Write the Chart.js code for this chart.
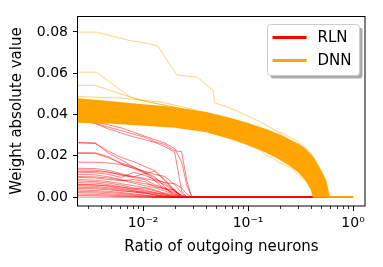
<!DOCTYPE html>
<html>
<head>
<meta charset="utf-8">
<script src="https://cdn.jsdelivr.net/npm/chart.js@4.4.0/dist/chart.umd.min.js"></script>
<style>
  html, body { margin: 0; padding: 0; background: #fff; }
  canvas { display: block; }
</style>
</head>
<body>
<canvas id="chart" width="383" height="267"></canvas>
<script>
// ratio of outgoing neurons, shared by all RLN curves
const rlnX = [0.0024, 0.0035, 0.0047, 0.0062, 0.0081, 0.0104, 0.0129, 0.0161, 0.02, 0.0233, 0.0261, 0.0291, 1.0];

// RLN weight curves
const rlnCurves = [
    [0.0380, 0.0358, 0.0338, 0.0322, 0.0305, 0.0290, 0.0268, 0.0255, 0.0225, 0.0220, 0.0080, 0, 0],
    [0.0385, 0.0362, 0.0350, 0.0335, 0.0315, 0.0295, 0.0278, 0.0262, 0.0235, 0.0170, 0.0058, 0, 0],
    [0.0370, 0.0356, 0.0330, 0.0310, 0.0292, 0.0278, 0.0265, 0.0245, 0.0218, 0.0030, 0, 0, 0],
    [0.0265, 0.0262, 0.0213, 0.0180, 0.0146, 0.0120, 0.0098, 0.0050, 0, 0, 0, 0, 0],
    [0.0262, 0.0260, 0.0222, 0.0192, 0.0172, 0.0148, 0.0128, 0.0085, 0.0035, 0, 0, 0, 0],
    [0.0212, 0.0212, 0.0190, 0.0165, 0.0146, 0.0120, 0.0090, 0.0069, 0.0030, 0, 0, 0, 0],
    [0.0215, 0.0214, 0.0196, 0.0160, 0.0140, 0.0125, 0.0110, 0.0100, 0.0060, 0.0020, 0, 0, 0],
    [0.0169, 0.0169, 0.0165, 0.0158, 0.0140, 0.0115, 0.0080, 0.0040, 0.0015, 0, 0, 0, 0],
    [0.0140, 0.0138, 0.0130, 0.0112, 0.0100, 0.0090, 0.0080, 0.0060, 0.0030, 0.0008, 0, 0, 0],
    [0.0132, 0.0130, 0.0122, 0.0105, 0.0098, 0.0115, 0.0125, 0.0080, 0.0030, 0, 0, 0, 0],
    [0.0125, 0.0124, 0.0120, 0.0110, 0.0095, 0.0085, 0.0060, 0.0045, 0.0025, 0.0010, 0, 0, 0],
    [0.0120, 0.0118, 0.0110, 0.0095, 0.0120, 0.0105, 0.0085, 0.0070, 0.0065, 0.0045, 0.0015, 0, 0],
    [0.0110, 0.0108, 0.0098, 0.0085, 0.0075, 0.0065, 0.0055, 0.0040, 0.0020, 0, 0, 0, 0],
    [0.0100, 0.0098, 0.0092, 0.0082, 0.0068, 0.0055, 0.0045, 0.0030, 0.0012, 0, 0, 0, 0],
    [0.0095, 0.0093, 0.0085, 0.0080, 0.0085, 0.0075, 0.0050, 0.0040, 0.0035, 0.0005, 0, 0, 0],
    [0.0085, 0.0082, 0.0075, 0.0065, 0.0055, 0.0045, 0.0035, 0.0015, 0, 0, 0, 0, 0],
    [0.0078, 0.0075, 0.0068, 0.0058, 0.0045, 0.0035, 0.0022, 0.0010, 0, 0, 0, 0, 0],
    [0.0070, 0.0068, 0.0060, 0.0050, 0.0040, 0.0045, 0.0030, 0.0020, 0.0008, 0, 0, 0, 0],
    [0.0062, 0.0060, 0.0052, 0.0042, 0.0032, 0.0025, 0.0018, 0.0010, 0, 0, 0, 0, 0],
    [0.0060, 0.0058, 0.0055, 0.0048, 0.0038, 0.0030, 0.0022, 0.0015, 0.0006, 0, 0, 0, 0],
    [0.0055, 0.0052, 0.0045, 0.0038, 0.0030, 0.0022, 0.0012, 0.0005, 0, 0, 0, 0, 0],
    [0.0048, 0.0046, 0.0040, 0.0032, 0.0025, 0.0018, 0.0010, 0, 0, 0, 0, 0, 0],
    [0.0042, 0.0040, 0.0035, 0.0030, 0.0025, 0.0020, 0.0012, 0.0004, 0, 0, 0, 0, 0],
    [0.0035, 0.0032, 0.0028, 0.0022, 0.0016, 0.0010, 0.0005, 0, 0, 0, 0, 0, 0],
    [0.0028, 0.0026, 0.0022, 0.0018, 0.0012, 0.0008, 0.0003, 0, 0, 0, 0, 0, 0],
    [0.0022, 0.0020, 0.0016, 0.0012, 0.0008, 0.0004, 0, 0, 0, 0, 0, 0, 0],
    [0.0015, 0.0013, 0.0010, 0.0007, 0.0004, 0.0001, 0, 0, 0, 0, 0, 0, 0],
    [0.0008, 0.0007, 0.0005, 0.0003, 0.0001, 0, 0, 0, 0, 0, 0, 0, 0],
    [0, 0, 0, 0, 0, 0, 0, 0, 0, 0, 0, 0, 0]
];

// DNN: the dense bundle of curves, as its upper and lower edge
const bandX = [0.0024, 0.005, 0.01, 0.02, 0.04, 0.07, 0.1, 0.15, 0.2, 0.25, 0.3, 0.35, 0.4, 0.42, 0.45, 0.5, 0.55, 0.59, 1.0];
const dnnBandTop = [0.0475, 0.0461, 0.0446, 0.0433, 0.0408, 0.0378, 0.0356, 0.0325, 0.0300, 0.0275, 0.0255, 0.0232, 0.0200, 0.0185, 0.0160, 0.0118, 0.0075, 0, 0];
const dnnBandBottom = [0.0364, 0.0359, 0.0349, 0.0339, 0.0318, 0.0283, 0.0255, 0.0218, 0.0185, 0.0155, 0.0125, 0.0088, 0.0040, 0, 0, 0, 0, 0, 0];

// DNN curves standing out of the bundle
const dnnTopX = [0.0024, 0.0036, 0.0075, 0.0108, 0.0138, 0.0161, 0.0209, 0.0332, 0.037, 0.0461, 0.0483, 0.0627, 0.087, 0.121, 0.161, 0.2, 0.233, 0.3, 0.4, 0.5, 0.59, 1.0];
const dnnTopY = [0.0799, 0.0799, 0.0758, 0.0745, 0.0732, 0.0680, 0.0592, 0.0580, 0.0559, 0.0519, 0.0456, 0.0437, 0.0407, 0.0373, 0.0339, 0.0310, 0.0285, 0.0255, 0.0198, 0.0120, 0, 0];
const dnnSecondX = [0.0024, 0.0036, 0.0075, 0.012, 0.02, 0.1, 0.3, 0.5, 0.55];
const dnnSecondY = [0.0605, 0.0605, 0.0485, 0.0458, 0.0435, 0.0340, 0.0200, 0.0050, 0];
const dnnThirdX = [0.0024, 0.0035, 0.0093, 0.02, 0.1, 0.3, 0.5, 0.52];
const dnnThirdY = [0.0541, 0.0541, 0.0470, 0.0435, 0.0330, 0.0180, 0.0040, 0];
const dnnFourthX = [0.0024, 0.006, 0.015, 0.03, 0.1];
const dnnFourthY = [0.0487, 0.0480, 0.0460, 0.0425, 0.0340];
const dnnLowX = [0.1, 0.13, 0.15, 0.17, 0.2, 0.25, 0.3, 0.35];
const dnnLowY = [0.0255, 0.0235, 0.0200, 0.0190, 0.0165, 0.0145, 0.0110, 0.0080];
const dnnHighX = [0.2, 0.3, 0.4, 0.45, 0.5, 0.55, 0.6];
const dnnHighY = [0.0318, 0.0268, 0.0210, 0.0170, 0.0126, 0.0082, 0];

const xTicks = [0.01, 0.1, 1];
const xTickLabels = ['10\u207B\u00B2', '10\u207B\u00B9', '10\u2070'];
const xMinorTicks = [0.003, 0.004, 0.005, 0.006, 0.007, 0.008, 0.009,
                     0.02, 0.03, 0.04, 0.05, 0.06, 0.07, 0.08, 0.09,
                     0.2, 0.3, 0.4, 0.5, 0.6, 0.7, 0.8, 0.9];
const yTicks = [0, 0.02, 0.04, 0.06, 0.08];

const FONT = 'DejaVu Sans';

function toPoints(xs, ys) {
    return xs.map(function (x, i) { return { x: x, y: ys[i] }; });
}

const datasets = [];

datasets.push({
    data: toPoints(bandX, dnnBandTop),
    borderColor: '#ffa500', borderWidth: 1.5, fill: false, order: 1
});
datasets.push({
    data: toPoints(bandX, dnnBandBottom),
    borderColor: '#ffa500', borderWidth: 1.5,
    backgroundColor: '#ffa500', fill: '-1', order: 1
});

[[dnnTopX, dnnTopY], [dnnSecondX, dnnSecondY], [dnnThirdX, dnnThirdY],
 [dnnFourthX, dnnFourthY], [dnnLowX, dnnLowY], [dnnHighX, dnnHighY]].forEach(function (c) {
    datasets.push({
        data: toPoints(c[0], c[1]),
        borderColor: 'rgba(255,165,0,0.5)', borderWidth: 1, fill: false, order: 0
    });
});

rlnCurves.forEach(function (ys) {
    datasets.push({
        data: toPoints(rlnX, ys),
        borderColor: 'rgba(255,0,0,0.5)', borderWidth: 1, fill: false, order: 2
    });
});

// top/right spines and minor ticks, matplotlib style
const frame = {
    id: 'frame',
    afterDraw(chart) {
        const ctx = chart.ctx;
        const a = chart.chartArea;
        const xs = chart.scales.x;
        ctx.save();
        ctx.strokeStyle = '#000';
        ctx.lineWidth = 1;
        ctx.strokeRect(Math.round(a.left) - 0.5, Math.round(a.top) + 0.5,
            Math.round(a.right - a.left) + 0.5, Math.round(a.bottom - a.top) - 0.5);
        ctx.lineWidth = 0.8;
        xMinorTicks.forEach(function (v) {
            const px = Math.round(xs.getPixelForValue(v)) + 0.5;
            if (px < a.left || px > a.right) return;
            ctx.beginPath();
            ctx.moveTo(px, a.bottom);
            ctx.lineTo(px, a.bottom + 3);
            ctx.stroke();
        });
        ctx.restore();
    }
};

function roundRect(ctx, x, y, w, h, r) {
    ctx.beginPath();
    ctx.moveTo(x + r, y);
    ctx.lineTo(x + w - r, y);
    ctx.arcTo(x + w, y, x + w, y + r, r);
    ctx.lineTo(x + w, y + h - r);
    ctx.arcTo(x + w, y + h, x + w - r, y + h, r);
    ctx.lineTo(x + r, y + h);
    ctx.arcTo(x, y + h, x, y + h - r, r);
    ctx.lineTo(x, y + r);
    ctx.arcTo(x, y, x + r, y, r);
    ctx.closePath();
}

const legendEntries = [
    { text: 'RLN', color: '#ff0000' },
    { text: 'DNN', color: '#ffa500' }
];

const legendBox = {
    id: 'legendBox',
    afterDraw(chart) {
        const ctx = chart.ctx;
        const a = chart.chartArea;
        const w = 92, h = 51;
        const x = Math.round(a.right) - 6 - w + 0.5;
        const y = Math.round(a.top) + 8 + 0.5;
        ctx.save();
        roundRect(ctx, x + 3, y + 3, w, h, 3);
        ctx.fillStyle = 'rgba(0,0,0,0.33)';
        ctx.fill();
        roundRect(ctx, x, y, w, h, 3);
        ctx.fillStyle = '#ffffff';
        ctx.fill();
        ctx.strokeStyle = '#cccccc';
        ctx.lineWidth = 1;
        ctx.stroke();
        ctx.font = '15px "' + FONT + '"';
        ctx.textBaseline = 'middle';
        ctx.textAlign = 'left';
        legendEntries.forEach(function (e, i) {
            const ly = y + 13 + i * 23;
            ctx.strokeStyle = e.color;
            ctx.lineWidth = 3;
            ctx.beginPath();
            ctx.moveTo(x + 5, ly);
            ctx.lineTo(x + 39, ly);
            ctx.stroke();
            ctx.fillStyle = '#000';
            ctx.fillText(e.text, x + 50, ly + 1);
        });
        ctx.restore();
    }
};

new Chart(document.getElementById('chart').getContext('2d'), {
    type: 'line',
    data: { datasets: datasets },
    options: {
        responsive: false,
        animation: false,
        devicePixelRatio: 1,
        parsing: true,
        elements: {
            point: { radius: 0 },
            line: { tension: 0 }
        },
        layout: { padding: { top: 16, right: 18, left: 0, bottom: 0 } },
        plugins: {
            legend: { display: false },
            tooltip: { enabled: false }
        },
        scales: {
            x: {
                type: 'logarithmic',
                position: 'bottom',
                min: 0.0024,
                max: 1.3,
                afterBuildTicks: function (s) { s.ticks = xTicks.map(function (v) { return { value: v, major: true }; }); },
                afterFit: function (s) { s.height = 61; },
                border: { display: false },
                grid: { display: true, drawOnChartArea: false, drawTicks: true, tickLength: 5, tickColor: '#000', tickWidth: 1 },
                ticks: {
                    autoSkip: false, maxRotation: 0, padding: 4, color: '#000',
                    font: { family: FONT, size: 14 },
                    callback: function (v) {
                        const i = xTicks.indexOf(v);
                        return i >= 0 ? xTickLabels[i] : '';
                    }
                },
                title: {
                    display: true, text: 'Ratio of outgoing neurons', color: '#000',
                    font: { family: FONT, size: 15 },
                    padding: { top: 4, bottom: 11 }
                }
            },
            y: {
                type: 'linear',
                min: -0.0043,
                max: 0.0877,
                afterBuildTicks: function (s) { s.ticks = yTicks.map(function (v) { return { value: v }; }); },
                afterFit: function (s) { s.width = 78; },
                border: { display: false },
                grid: { display: true, drawOnChartArea: false, drawTicks: true, tickLength: 5, tickColor: '#000', tickWidth: 1 },
                ticks: {
                    padding: 5, color: '#000',
                    font: { family: FONT, size: 14 },
                    callback: function (v) { return v.toFixed(2); }
                },
                title: {
                    display: true, text: 'Weight absolute value', color: '#000',
                    font: { family: FONT, size: 15 },
                    padding: { top: 8, bottom: 0 }
                }
            }
        }
    },
    plugins: [frame, legendBox]
});
</script>
</body>
</html>
